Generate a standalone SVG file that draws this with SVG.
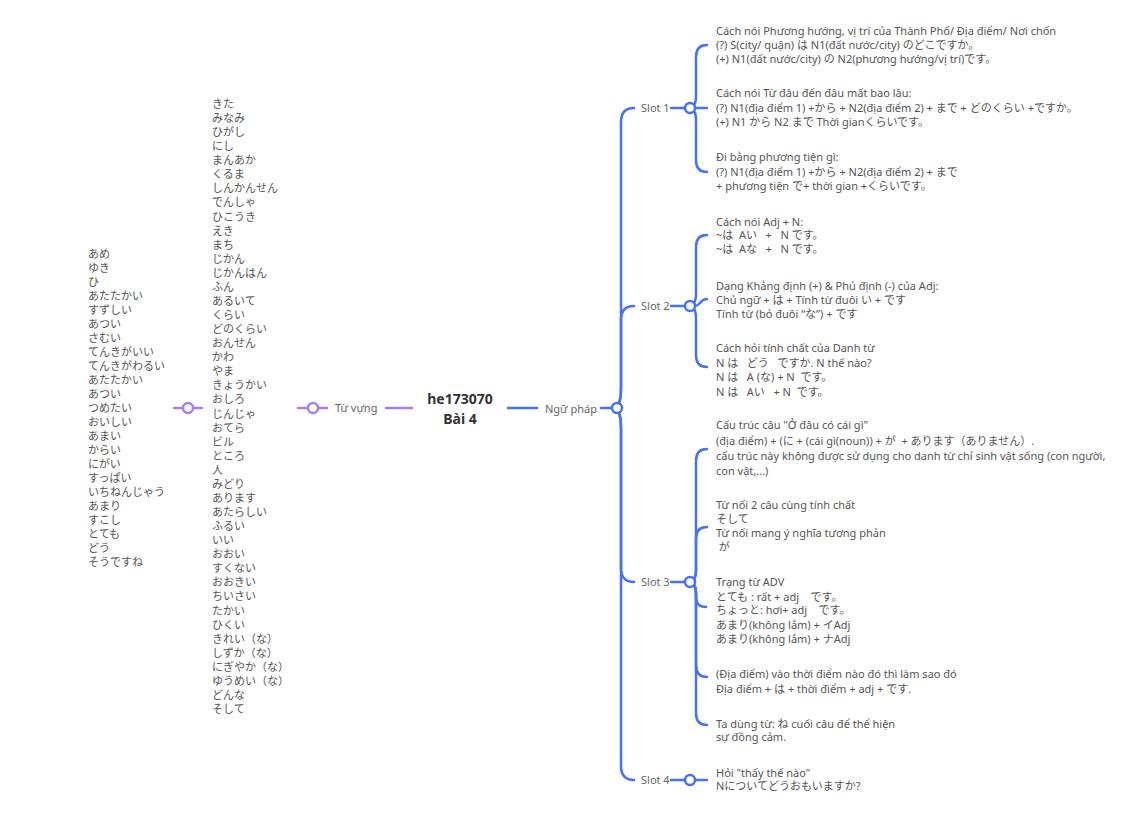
<svg xmlns="http://www.w3.org/2000/svg" width="1148" height="818" viewBox="0 0 1148 818">
<style>
text{font-family:"Noto Sans","Noto Sans CJK JP",sans-serif;font-size:11px;fill:#555;white-space:pre}
.t{fill:#555}
.center{font-size:14px;font-weight:bold;fill:#333}
.lab{font-size:11px;fill:#666}
.b{fill:none;stroke:#4672f4;stroke-width:2.5;stroke-linecap:round}
.p{fill:none;stroke:#a880e6;stroke-width:2.5;stroke-linecap:round}
.cb{fill:#fff;stroke:#4672f4;stroke-width:2.5}
.cp{fill:#fff;stroke:#a880e6;stroke-width:2.5}
</style>
<rect width="1148" height="818" fill="#fff"/>
<g id="connectors">
<path class="p" d="M386,408 L412,408"/>
<path class="p" d="M298,408 L327,408"/>
<path class="p" d="M174,408 L202,408"/>
<path class="b" d="M508,408 L537,408"/>
<path class="b" d="M601,408 L612,408"/>
<path class="b" d="M619,403 C621,398 621,395 621,388 L621,122 Q621,108 634,108"/>
<path class="b" d="M619,403 C621,398 621,395 621,388 L621,320 Q621,306 634,306"/>
<path class="b" d="M619,413 C621,418 621,421 621,428 L621,568 Q621,582 634,582"/>
<path class="b" d="M619,413 C621,418 621,421 621,428 L621,766 Q621,780 634,780"/>
<path class="b" d="M671,108 L685,108"/>
<path class="b" d="M671,306 L685,306"/>
<path class="b" d="M671,582 L685,582"/>
<path class="b" d="M671,780 L685,780"/>
<path class="b" d="M694,105 Q696,102 696,96 L696,57 Q696,45 707,45"/>
<path class="b" d="M695,108 L707,108"/>
<path class="b" d="M694,111 Q696,114 696,120 L696,160 Q696,172 707,172"/>
<path class="b" d="M694,303 Q696,300 696,294 L696,247 Q696,235 707,235"/>
<path class="b" d="M695,306 C700,306 700,299 707,299"/>
<path class="b" d="M694,309 Q696,312 696,318 L696,355 Q696,367 707,367"/>
<path class="b" d="M694,579 Q696,576 696,570 L696,461 Q696,449 707,449"/>
<path class="b" d="M694,579 Q696,576 696,570 L696,539 Q696,527 707,527"/>
<path class="b" d="M694,585 Q696,588 696,594 L696,597 Q696,607 706,607"/>
<path class="b" d="M694,585 Q696,588 696,594 L696,665 Q696,677 707,677"/>
<path class="b" d="M694,585 Q696,588 696,594 L696,713 Q696,725 707,725"/>
<path class="b" d="M695,780 L707,780"/>
</g>
<g id="root">
<text class="center" x="460" y="404" text-anchor="middle">he173070</text>
<text class="center" x="460" y="424" text-anchor="middle">Bài 4</text>
</g>
<g id="tuvung">
<text class="lab" x="335" y="412">Từ vựng</text>
<circle class="cp" cx="313" cy="408" r="5"/>
</g>
<g id="vocab2">
<circle class="cp" cx="188" cy="408" r="5"/>
<text x="212" y="108">
<tspan x="212">きた</tspan><tspan x="212" dy="14.07">みなみ</tspan><tspan x="212" dy="14.07">ひがし</tspan><tspan x="212" dy="14.07">にし</tspan><tspan x="212" dy="14.07">まんあか</tspan><tspan x="212" dy="14.07">くるま</tspan><tspan x="212" dy="14.07">しんかんせん</tspan><tspan x="212" dy="14.07">でんしゃ</tspan><tspan x="212" dy="14.07">ひこうき</tspan><tspan x="212" dy="14.07">えき</tspan><tspan x="212" dy="14.07">まち</tspan><tspan x="212" dy="14.07">じかん</tspan><tspan x="212" dy="14.07">じかんはん</tspan><tspan x="212" dy="14.07">ふん</tspan><tspan x="212" dy="14.07">あるいて</tspan><tspan x="212" dy="14.07">くらい</tspan><tspan x="212" dy="14.07">どのくらい</tspan><tspan x="212" dy="14.07">おんせん</tspan><tspan x="212" dy="14.07">かわ</tspan><tspan x="212" dy="14.07">やま</tspan><tspan x="212" dy="14.07">きょうかい</tspan><tspan x="212" dy="14.07">おしろ</tspan><tspan x="212" dy="14.07">じんじゃ</tspan><tspan x="212" dy="14.07">おてら</tspan><tspan x="212" dy="14.07">ビル</tspan><tspan x="212" dy="14.07">ところ</tspan><tspan x="212" dy="14.07">人</tspan><tspan x="212" dy="14.07">みどり</tspan><tspan x="212" dy="14.07">あります</tspan><tspan x="212" dy="14.07">あたらしい</tspan><tspan x="212" dy="14.07">ふるい</tspan><tspan x="212" dy="14.07">いい</tspan><tspan x="212" dy="14.07">おおい</tspan><tspan x="212" dy="14.07">すくない</tspan><tspan x="212" dy="14.07">おおきい</tspan><tspan x="212" dy="14.07">ちいさい</tspan><tspan x="212" dy="14.07">たかい</tspan><tspan x="212" dy="14.07">ひくい</tspan><tspan x="212" dy="14.07">きれい（な）</tspan><tspan x="212" dy="14.07">しずか（な）</tspan><tspan x="212" dy="14.07">にぎやか（な）</tspan><tspan x="212" dy="14.07">ゆうめい（な）</tspan><tspan x="212" dy="14.07">どんな</tspan><tspan x="212" dy="14.07">そして</tspan>
</text>
</g>
<g id="vocab1">
<text x="88" y="258">
<tspan x="88">あめ</tspan><tspan x="88" dy="14">ゆき</tspan><tspan x="88" dy="14">ひ</tspan><tspan x="88" dy="14">あたたかい</tspan><tspan x="88" dy="14">すずしい</tspan><tspan x="88" dy="14">あつい</tspan><tspan x="88" dy="14">さむい</tspan><tspan x="88" dy="14">てんきがいい</tspan><tspan x="88" dy="14">てんきがわるい</tspan><tspan x="88" dy="14">あたたかい</tspan><tspan x="88" dy="14">あつい</tspan><tspan x="88" dy="14">つめたい</tspan><tspan x="88" dy="14">おいしい</tspan><tspan x="88" dy="14">あまい</tspan><tspan x="88" dy="14">からい</tspan><tspan x="88" dy="14">にがい</tspan><tspan x="88" dy="14">すっぱい</tspan><tspan x="88" dy="14">いちねんじゃう</tspan><tspan x="88" dy="14">あまり</tspan><tspan x="88" dy="14">すこし</tspan><tspan x="88" dy="14">とても</tspan><tspan x="88" dy="14">どう</tspan><tspan x="88" dy="14">そうですね</tspan>
</text>
</g>
<g id="nguphap">
<text class="lab" x="545" y="413">Ngữ pháp</text>
<circle class="cb" cx="617" cy="408" r="5"/>
</g>
<g id="slot1">
<text class="lab" x="641" y="112">Slot 1</text>
<circle class="cb" cx="690" cy="108" r="5"/>
</g>
<g id="slot2">
<text class="lab" x="641" y="310">Slot 2</text>
<circle class="cb" cx="690" cy="306" r="5"/>
</g>
<g id="slot3">
<text class="lab" x="641" y="586">Slot 3</text>
<circle class="cb" cx="690" cy="582" r="5"/>
</g>
<g id="slot4">
<text class="lab" x="641" y="784">Slot 4</text>
<circle class="cb" cx="690" cy="780" r="5"/>
</g>
<g id="s1b1">
<text x="716" y="34.5">Cách nói Phương hướng, vị trí của Thành Phố/ Địa điểm/ Nơi chốn</text>
<text x="716" y="48.5">(?) S(city/ quận) は N1(đất nước/city) のどこですか。</text>
<text x="716" y="62.5">(+) N1(đất nước/city) の N2(phương hướng/vị trí)です。</text>
</g>
<g id="s1b2">
<text x="716" y="97">Cách nói Từ đâu đến đâu mất bao lâu:</text>
<text x="716" y="112">(?) N1(địa điểm 1) +から + N2(địa điểm 2) + まで + どのくらい +ですか。</text>
<text x="716" y="126">(+) N1 から N2 まで Thời gianくらいです。</text>
</g>
<g id="s1b3">
<text x="716" y="161">Đi bằng phương tiện gì:</text>
<text x="716" y="175.5">(?) N1(địa điểm 1) +から + N2(địa điểm 2) + まで</text>
<text x="716" y="190">+ phương tiện で+ thời gian +くらいです。</text>
</g>
<g id="s2b1">
<text x="716" y="225.5">Cách nói Adj + N:</text>
<text x="716" y="239">~は  Aい   +   N です。</text>
<text x="716" y="253">~は  Aな   +   N です。</text>
</g>
<g id="s2b2">
<text x="716" y="290">Dạng Khẳng định (+) &amp; Phủ định (-) của Adj:</text>
<text x="716" y="303.5">Chủ ngữ + は + Tính từ đuôi い + です</text>
<text x="716" y="317.5">Tính từ (bỏ đuôi “な”) + です</text>
</g>
<g id="s2b3">
<text x="716" y="351.5">Cách hỏi tính chất của Danh từ</text>
<text x="716" y="367">N は   どう   ですか. N thế nào?</text>
<text x="716" y="381">N は   A (な) + N  です。</text>
<text x="716" y="395.5">N は   Aい   + N  です。</text>
</g>
<g id="s3b1">
<text x="716" y="429">Cấu trúc câu "Ở đâu có cái gì"</text>
<text x="716" y="445">(địa điểm) + (に + (cái gì(noun)) + が  + あります（ありません）.</text>
<text x="716" y="460">cấu trúc này không được sử dụng cho danh từ chỉ sinh vật sống (con người,</text>
<text x="716" y="474.5">con vật,...)</text>
</g>
<g id="s3b2">
<text x="716" y="509">Từ nối 2 câu cùng tính chất</text>
<text x="716" y="522.5">そして</text>
<text x="716" y="536.5">Từ nối mang ý nghĩa tương phản</text>
<text x="716" y="550.5"> が</text>
</g>
<g id="s3b3">
<text x="716" y="586">Trạng từ ADV</text>
<text x="716" y="600.5">とても : rất + adj    です。</text>
<text x="716" y="614">ちょっと: hơi+ adj    です。</text>
<text x="716" y="629">あまり(không lắm) + イAdj</text>
<text x="716" y="642.5">あまり(không lắm) + ナAdj</text>
</g>
<g id="s3b4">
<text x="716" y="678">(Địa điểm) vào thời điểm nào đó thì làm sao đó</text>
<text x="716" y="692.5">Địa điểm + は + thời điểm + adj + です.</text>
</g>
<g id="s3b5">
<text x="716" y="728">Ta dùng từ: ね cuối câu để thể hiện</text>
<text x="716" y="741">sự đồng cảm.</text>
</g>
<g id="s4b1">
<text x="716" y="776.5">Hỏi "thấy thế nào"</text>
<text x="716" y="789.5">Nについてどうおもいますか?</text>
</g>
</svg>
